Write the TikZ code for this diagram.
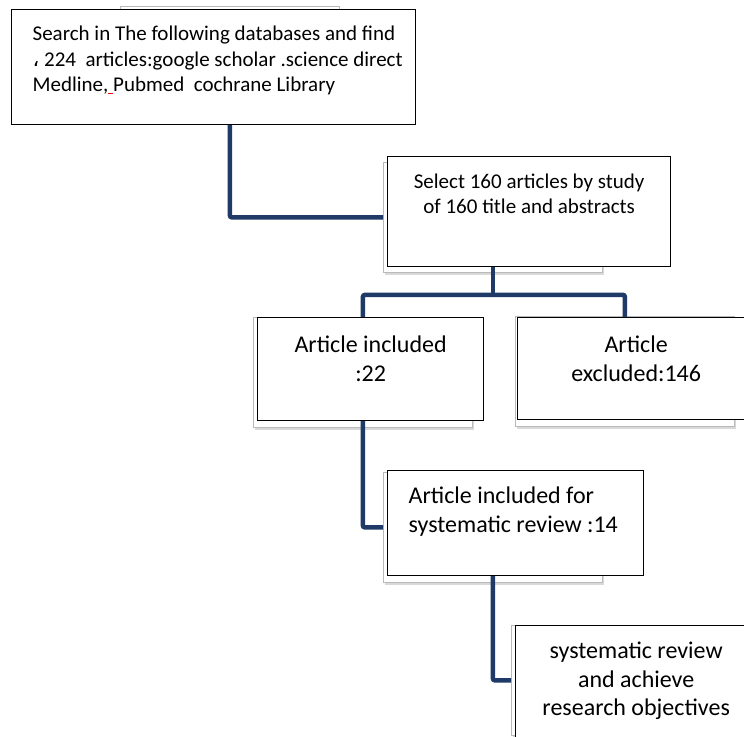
\documentclass[tikz,border=0pt]{standalone}
\usepackage{fontspec}
\setmainfont{Carlito}
\newfontfamily\arabicfont[Script=Arabic]{DejaVu Sans}
\usetikzlibrary{
    shadows,
    calc
}
\definecolor{linkblue}{RGB}{31,58,102}
\newcommand{\cellbox}[4]{\parbox[t][#2][t]{#1}{\vspace*{#3}#4}}

\begin{document}
\begin{tikzpicture}[x=1pt, y=-1pt,
    backbox/.style={draw=gray!55, line width=.8pt, fill=white, anchor=north west, inner sep=0pt,
        minimum width=219pt, minimum height=110pt,
        drop shadow={shadow xshift=1.5pt, shadow yshift=-2.5pt, opacity=.3}},
    textbox/.style={draw=black, line width=1.3pt, fill=white, anchor=north west, inner sep=0pt},
    link/.style={draw=linkblue, line width=4.5pt, rounded corners=2pt}]
                \useasboundingbox (0,0) rectangle (744,736);
                \clip (0,0) rectangle (744,736);
                % boxes behind
                \foreach \n/\x/\y in {search/120/6, select/383/162, incl/253/317,
                                      excl/515/316, review/383/472, objectives/511/625}{
                    \node[backbox] (\n-sh) at (\x, \y) {};
                }
                % connectors
                \coordinate (fork) at ($(select-sh.south)!.5!(incl-sh.north)$);
                \draw[link] (search-sh.center) |- (select-sh.west);
                \draw[link] (select-sh.center) -- (select-sh.center |- fork);
                \draw[link] (incl-sh.center) |- (fork) -| (excl-sh.center);
                \draw[link] (incl-sh.center) |- (review-sh.west);
                \draw[link] (review-sh.center) |- (objectives-sh.west);
                % text boxes
                \node[textbox, font=\fontsize{21}{25.6}\selectfont] (search) at (11, 9)
                    {\cellbox{404pt}{115pt}{13pt}{\raggedright\leftskip=21pt
                     \strut Search in The following databases and find\\
                     {\arabicfont ،} 224~ articles:google scholar .science direct\\
                     Medline,\textcolor{red}{\rule[-2.5pt]{4.7pt}{1.3pt}}Pubmed~ cochrane Library}};
                \node[textbox, font=\fontsize{21}{25.2}\selectfont] (select) at (387, 156)
                    {\cellbox{283pt}{110pt}{14pt}{\centering
                     \strut Select 160 articles by study\\ of 160 title and abstracts}};
                \node[textbox, font=\fontsize{24}{28.5}\selectfont] (incl) at (257, 317)
                    {\cellbox{226pt}{103pt}{15pt}{\centering
                     \strut Article included\\ :22}};
                \node[textbox, font=\fontsize{24}{28.5}\selectfont] (excl) at (517, 317)
                    {\cellbox{237pt}{102pt}{15pt}{\centering
                     \strut Article\\ excluded:146}};
                \node[textbox, font=\fontsize{24}{28.5}\selectfont] (review) at (387, 470)
                    {\cellbox{256pt}{105pt}{13pt}{\raggedright\leftskip=21pt
                     \strut Article included for\\ systematic review :14}};
                \node[textbox, font=\fontsize{24}{28.5}\selectfont] (objectives) at (515, 625)
                    {\cellbox{241pt}{130pt}{13pt}{\centering
                     \strut systematic review\\ and achieve\\ research objectives}};
            \end{tikzpicture}
\end{document}
